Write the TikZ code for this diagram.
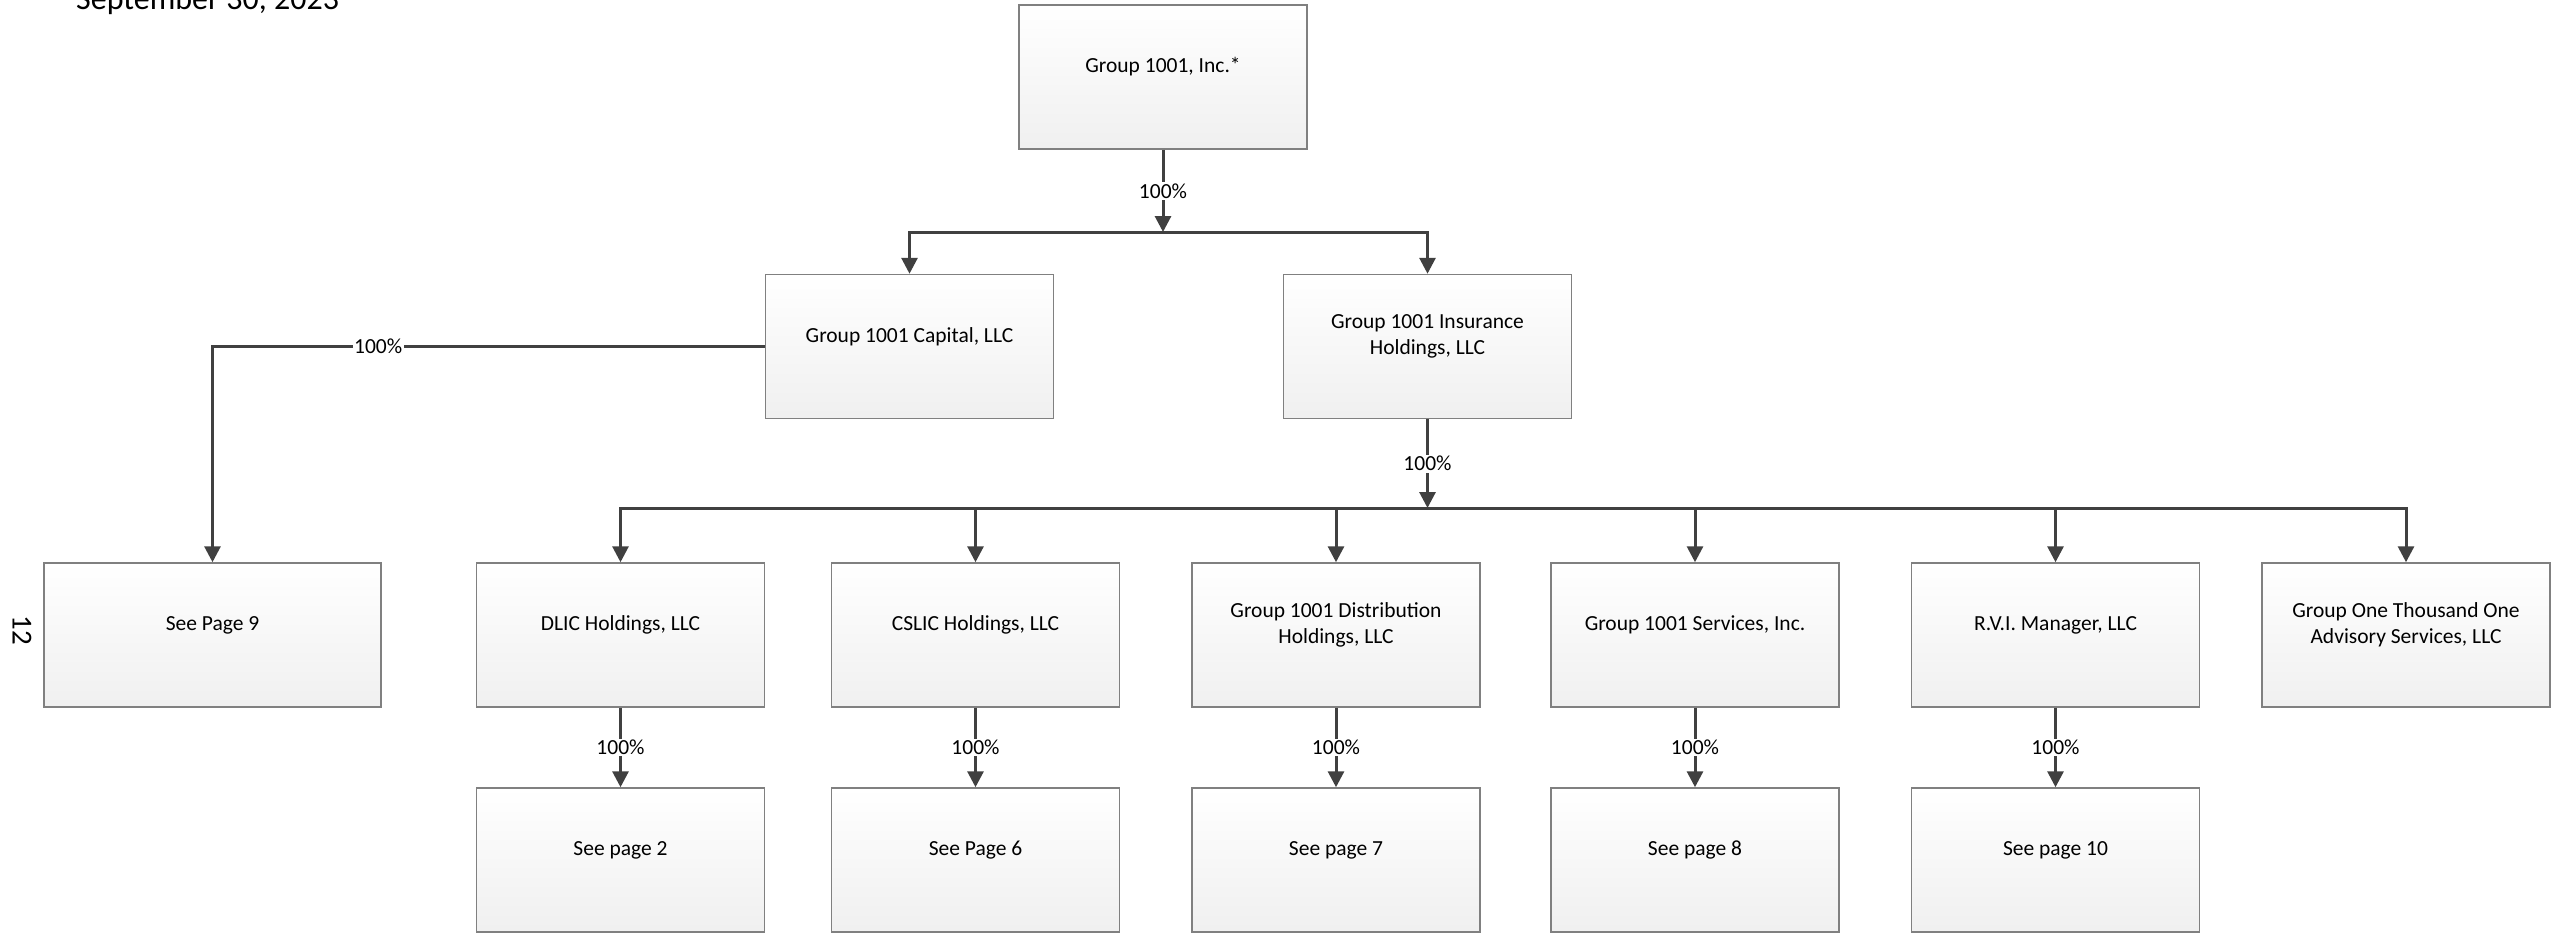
\documentclass[tikz,border=0pt]{standalone}
\usepackage{fontspec}
\setmainfont{Carlito}
\usetikzlibrary{arrows.meta}
\definecolor{lineC}{HTML}{404040}
\definecolor{boxC}{HTML}{808080}
\tikzset{
  box/.style={draw=boxC, line width=1.5pt, top color=white, bottom color=black!6, minimum width=288pt, minimum height=144pt, inner sep=0pt},
  txt/.style={font=\fontsize{21.5}{26}\selectfont, align=center, inner sep=0pt},
  conn/.style={draw=lineC, line width=3pt},
  arr/.style={conn, -{Triangle[length=16pt,width=16pt]}},
  pct/.style={fill=white, font=\fontsize{21.5}{24}\selectfont, inner sep=1.5pt}
}
\begin{document}
\begin{tikzpicture}[x=1pt,y=-1pt]
\useasboundingbox (0,0) rectangle (2561,932);
\begin{scope}
\clip (0,0) rectangle (2561,932);
\node[anchor=base west, font=\fontsize{32}{38}\selectfont, inner sep=0pt] (date) at (76,9) {September 30, 2023};
\node[rotate=-90, font=\fontsize{29}{34}\selectfont, inner sep=0pt] (pgno) at (22,630) {12};

% boxes
\node[box] (top) at (1163,77) {};
\node[txt] (topT) at ([yshift=10pt]top.center) {Group 1001, Inc.*};
\node[box] (cap) at (909.5,346.5) {};
\node[txt] (capT) at ([yshift=10pt]cap.center) {Group 1001 Capital, LLC};
\node[box] (ins) at (1427.5,346.5) {};
\node[txt] (insT) at ([yshift=10.5pt]ins.center) {Group 1001 Insurance\\Holdings, LLC};

\node[box, minimum width=337pt] (p9) at (212.5,635) {};
\node[txt] (p9T) at ([yshift=10pt]p9.center) {See Page 9};
\node[box] (dlic) at (620.5,635) {};
\node[txt] (dlicT) at ([yshift=10pt]dlic.center) {DLIC Holdings, LLC};
\node[box] (cslic) at (975.5,635) {};
\node[txt] (cslicT) at ([yshift=10pt]cslic.center) {CSLIC Holdings, LLC};
\node[box] (dist) at (1336,635) {};
\node[txt] (distT) at ([yshift=10.5pt]dist.center) {Group 1001 Distribution\\Holdings, LLC};
\node[box] (serv) at (1695,635) {};
\node[txt] (servT) at ([yshift=10pt]serv.center) {Group 1001 Services, Inc.};
\node[box] (rvi) at (2055.5,635) {};
\node[txt] (rviT) at ([yshift=10pt]rvi.center) {R.V.I. Manager, LLC};
\node[box] (adv) at (2406,635) {};
\node[txt] (advT) at ([yshift=10.5pt]adv.center) {Group One Thousand One\\Advisory Services, LLC};

\node[box] (p2) at (620.5,860) {};
\node[txt] (p2T) at ([yshift=10pt]p2.center) {See page 2};
\node[box] (p6) at (975.5,860) {};
\node[txt] (p6T) at ([yshift=10pt]p6.center) {See Page 6};
\node[box] (p7) at (1336,860) {};
\node[txt] (p7T) at ([yshift=10pt]p7.center) {See page 7};
\node[box] (p8) at (1695,860) {};
\node[txt] (p8T) at ([yshift=10pt]p8.center) {See page 8};
\node[box] (p10) at (2055.5,860) {};
\node[txt] (p10T) at ([yshift=10pt]p10.center) {See page 10};

% connectors
\coordinate (bus1) at (1163,232);
\coordinate (bus2) at (1427.5,508);
\draw[arr] (top.south) -- node[pct] (l1) {100\%} (bus1);
\draw[arr] (bus1) -| (cap.north);
\draw[arr] (bus1) -| (ins.north);
\draw[arr] (cap.west) -| node[pct, pos=0.35] (l2) {100\%} (p9.north);
\draw[arr] (ins.south) -- node[pct] (l3) {100\%} (bus2);
\foreach \c in {dlic,cslic,dist,serv,rvi,adv} {
  \draw[arr] (bus2) -| (\c.north);
}
\draw[arr] (dlic.south) -- node[pct] (l4) {100\%} (p2.north);
\draw[arr] (cslic.south) -- node[pct] (l5) {100\%} (p6.north);
\draw[arr] (dist.south) -- node[pct] (l6) {100\%} (p7.north);
\draw[arr] (serv.south) -- node[pct] (l7) {100\%} (p8.north);
\draw[arr] (rvi.south) -- node[pct] (l8) {100\%} (p10.north);
\end{scope}
\end{tikzpicture}
\end{document}
